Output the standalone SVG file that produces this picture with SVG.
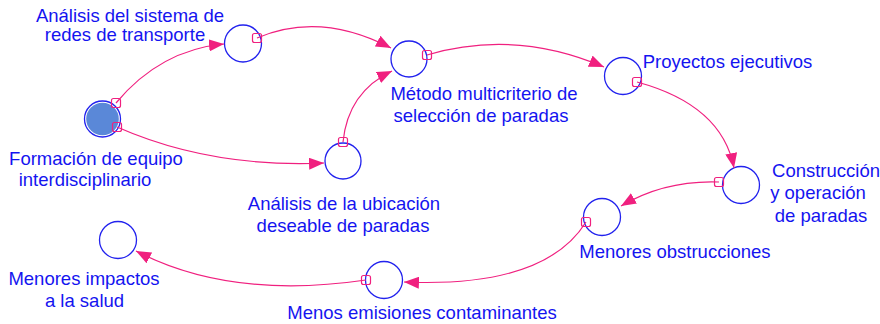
<svg xmlns="http://www.w3.org/2000/svg" width="880" height="324" viewBox="0 0 880 324">
<defs>
<marker id="arr" markerUnits="userSpaceOnUse" markerWidth="16" markerHeight="12" refX="15" refY="6" orient="auto">
<path d="M0,0 L15,6 L0,12 Z" fill="#f0207f"/>
</marker>
<style>
.n{fill:#fff;stroke:#2222ee;stroke-width:1.3}
.t{font-family:"Liberation Sans",Arial,sans-serif;font-size:18.5px;fill:#1414f0;text-anchor:middle}
.c{fill:none;stroke:#f0207f;stroke-width:1.2;marker-end:url(#arr)}
.s{fill:none;stroke:#f0207f;stroke-width:1.2}
</style>
</defs>
<rect width="880" height="324" fill="#fff"/>
<g id="n1">
<circle cx="102.5" cy="119" r="18" fill="#fff" stroke="#2222ee" stroke-width="1.3"/>
<circle cx="102.5" cy="119" r="16.3" fill="#5a88d8"/>
<text class="t" x="96" y="165">Formación de equipo</text>
<text class="t" x="85" y="186">interdisciplinario</text>
</g>
<g id="n2">
<circle class="n" cx="243" cy="43.5" r="18.5"/>
<text class="t" x="130" y="22">Análisis del sistema de</text>
<text class="t" x="125" y="41">redes de transporte</text>
</g>
<g id="n3">
<circle class="n" cx="409" cy="59" r="18"/>
<text class="t" x="484" y="100">Método multicriterio de</text>
<text class="t" x="481" y="122">selección de paradas</text>
</g>
<g id="n4">
<circle class="n" cx="623" cy="76" r="18.5"/>
<text class="t" x="727.5" y="68">Proyectos ejecutivos</text>
</g>
<g id="n5">
<circle class="n" cx="741" cy="185" r="18.5"/>
<text class="t" x="826" y="177">Construcción</text>
<text class="t" x="818" y="199">y operación</text>
<text class="t" x="821" y="222">de paradas</text>
</g>
<g id="n6">
<circle class="n" cx="602" cy="217" r="18.5"/>
<text class="t" x="675" y="258">Menores obstrucciones</text>
</g>
<g id="n7">
<circle class="n" cx="384" cy="280" r="18.5"/>
<text class="t" x="422" y="319">Menos emisiones contaminantes</text>
</g>
<g id="n8">
<circle class="n" cx="118" cy="240" r="18.5"/>
<text class="t" x="84" y="285">Menores impactos</text>
<text class="t" x="84.5" y="307">a la salud</text>
</g>
<g id="n9">
<circle class="n" cx="343" cy="161" r="18"/>
<text class="t" x="344" y="210">Análisis de la ubicación</text>
<text class="t" x="343" y="232">deseable de paradas</text>
</g>
<g id="connectors">
<path class="c" d="M116,103 Q160,50 224,44"/>
<path class="c" d="M117,127 Q210,168 324,163"/>
<path class="c" d="M257,38 Q320,11 391,48"/>
<path class="c" d="M343,142 Q348,92 392,71"/>
<path class="c" d="M427,55 Q515,29 604,67"/>
<path class="c" d="M637,82 Q722,105 734,168"/>
<path class="c" d="M719,182 Q665,180 621,206"/>
<path class="c" d="M586,222 Q545,288 404,282"/>
<path class="c" d="M366,280 Q230,300 136,251"/>
<rect class="s" x="111.5" y="98.5" width="9" height="9" rx="2"/>
<rect class="s" x="112.5" y="122.5" width="9" height="9" rx="2"/>
<rect class="s" x="252.5" y="33.5" width="9" height="9" rx="2"/>
<rect class="s" x="338.5" y="137.5" width="9" height="9" rx="2"/>
<rect class="s" x="422.5" y="50.5" width="9" height="9" rx="2"/>
<rect class="s" x="632.5" y="77.5" width="9" height="9" rx="2"/>
<rect class="s" x="714.5" y="177.5" width="9" height="9" rx="2"/>
<rect class="s" x="581.5" y="217.5" width="9" height="9" rx="2"/>
<rect class="s" x="361.5" y="275.5" width="9" height="9" rx="2"/>
</g>
</svg>
